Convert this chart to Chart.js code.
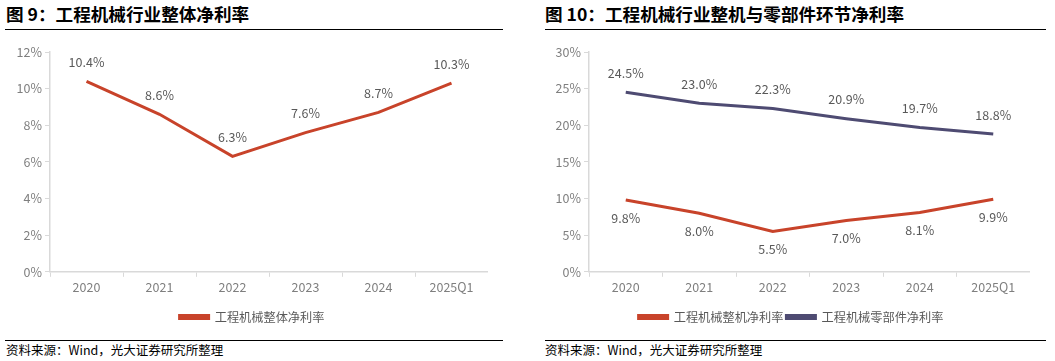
<!DOCTYPE html>
<html>
<head>
<meta charset="utf-8">
<script src="https://cdn.jsdelivr.net/npm/chart.js@4.4.1/dist/chart.umd.min.js"></script>
<style>
  body { margin: 0; width: 1055px; height: 361px; background: #fff; position: relative; overflow: hidden;
         font-family: "Noto Sans CJK SC", "Noto Sans", sans-serif; }
  .title { position: absolute; top: 3px; font-size: 17.6px; font-weight: bold; color: #000; line-height: 22px; }
  .rule { position: absolute; height: 1px; background: #000; }
  .src { position: absolute; top: 341px; font-size: 12.5px; color: #000; line-height: 18px; }
  .box { position: absolute; top: 38px; height: 295px; }
</style>
</head>
<body>
<div class="title" style="left:6px">图 9：工程机械行业整体净利率</div>
<div class="rule" style="left:5px; width:498px; top:29px"></div>
<div class="title" style="left:545px">图 10：工程机械行业整机与零部件环节净利率</div>
<div class="rule" style="left:545px; width:501px; top:29px"></div>

<div class="box" style="left:0; width:488px"><canvas id="chart1"></canvas></div>
<div class="box" style="left:510px; width:520px"><canvas id="chart2"></canvas></div>

<div class="rule" style="left:5px; width:498px; top:340px"></div>
<div class="src" style="left:6px">资料来源：Wind，光大证券研究所整理</div>
<div class="rule" style="left:545px; width:501px; top:340px"></div>
<div class="src" style="left:545px">资料来源：Wind，光大证券研究所整理</div>

<script>
// -----------------------------
// DATA
// -----------------------------
const years = ["2020", "2021", "2022", "2023", "2024", "2025Q1"];

const industryMargin = [10.4, 8.6, 6.3, 7.6, 8.7, 10.3];
const machineMargin = [9.8, 8.0, 5.5, 7.0, 8.1, 9.9];
const partsMargin = [24.5, 23.0, 22.3, 20.9, 19.7, 18.8];

const RED = "#C8432A";
const PURPLE = "#4E4B72";
const FONT = "'Noto Sans CJK SC', 'Noto Sans', sans-serif";

// -----------------------------
// value labels (above / below each point)
// -----------------------------
const valueLabels = {
    id: "valueLabels",
    afterDatasetsDraw(chart) {
        const ctx = chart.ctx;
        ctx.save();
        ctx.font = "12.5px " + FONT;
        ctx.fillStyle = "#595959";
        ctx.textAlign = "center";
        ctx.textBaseline = "middle";
        chart.data.datasets.forEach((ds, i) => {
            const meta = chart.getDatasetMeta(i);
            const off = ds.labelPos === "below" ? 18 : -19;
            meta.data.forEach((pt, j) => {
                ctx.fillText(ds.data[j].toFixed(1) + "%", pt.x, pt.y + off);
            });
        });
        ctx.restore();
    }
};

// padLeft + yWidth puts the y axis where it sits in the picture,
// and keeps the legend centred like the original
function makeOptions(yMax, yStep, padLeft, yWidth) {
    return {
        responsive: true,
        maintainAspectRatio: false,
        animation: false,
        layout: { padding: { top: 14, right: 0, left: padLeft, bottom: 0 } },
        elements: {
            line: { borderWidth: 3, tension: 0 },
            point: { radius: 0 }
        },
        scales: {
            x: {
                offset: true,
                grid: { offset: true, drawOnChartArea: false, color: "#d9d9d9", tickLength: 5 },
                border: { color: "#d9d9d9", width: 1.5 },
                ticks: { color: "#7f7f7f", font: { family: FONT, size: 12.5 }, padding: 3 },
                afterFit: (scale) => { scale.height += 10; }
            },
            y: {
                min: 0,
                max: yMax,
                grid: { drawOnChartArea: false, color: "#d9d9d9", tickLength: 5 },
                border: { color: "#d9d9d9", width: 1.5 },
                ticks: {
                    stepSize: yStep,
                    color: "#7f7f7f",
                    font: { family: FONT, size: 12.5 },
                    padding: 3,
                    callback: (v) => v + "%"
                },
                afterFit: (scale) => { scale.width = yWidth; }
            }
        },
        plugins: {
            legend: {
                position: "bottom",
                labels: {
                    color: "#595959",
                    font: { family: FONT, size: 12.2 },
                    boxWidth: 29,
                    boxHeight: 3,
                    padding: 3
                }
            },
            tooltip: { enabled: false }
        }
    };
}

// -----------------------------
// CHART 1
// -----------------------------
new Chart(document.getElementById("chart1"), {
    type: "line",
    data: {
        labels: years,
        datasets: [{
            label: "工程机械整体净利率",
            data: industryMargin,
            borderColor: RED,
            backgroundColor: RED,
            labelPos: "above"
        }]
    },
    options: makeOptions(12, 2, 16, 34),
    plugins: [valueLabels]
});

// -----------------------------
// CHART 2
// -----------------------------
new Chart(document.getElementById("chart2"), {
    type: "line",
    data: {
        labels: years,
        datasets: [
            {
                label: "工程机械整机净利率",
                data: machineMargin,
                borderColor: RED,
                backgroundColor: RED,
                labelPos: "below"
            },
            {
                label: "工程机械零部件净利率",
                data: partsMargin,
                borderColor: PURPLE,
                backgroundColor: PURPLE,
                labelPos: "above"
            }
        ]
    },
    options: makeOptions(30, 5, 42, 37),
    plugins: [valueLabels]
});
</script>
</body>
</html>
